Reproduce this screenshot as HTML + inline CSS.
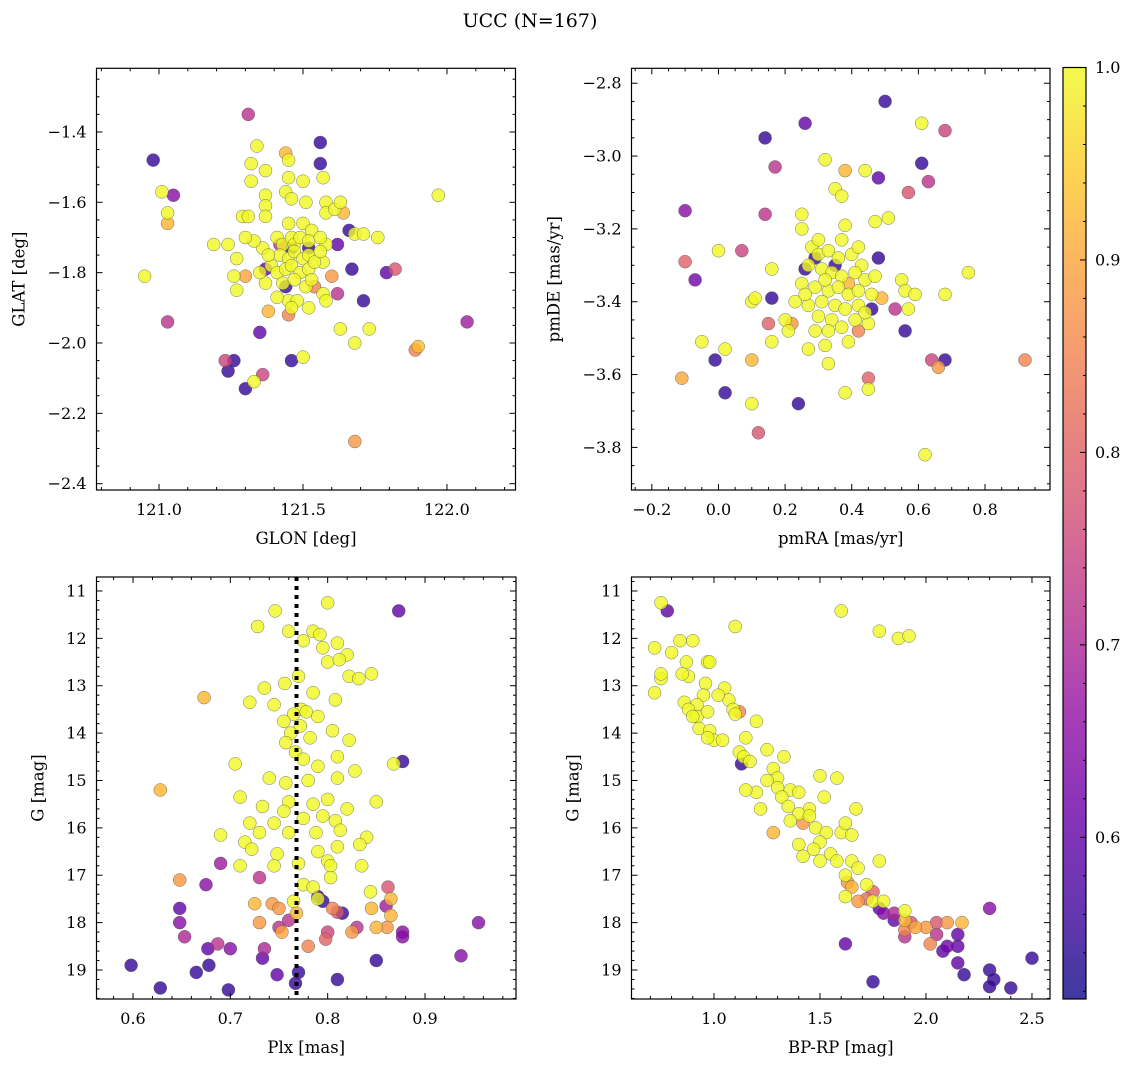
<!DOCTYPE html>
<html><head><meta charset="utf-8">
<style>
html,body{margin:0;padding:0;background:#fff;}
svg{display:block;font-family:"DejaVu Serif","Liberation Serif",serif;}
</style></head>
<body>
<svg id="fig" width="1136" height="1067" viewBox="0 0 1136 1067" xmlns="http://www.w3.org/2000/svg">
<defs>
<linearGradient id="plasma" x1="0" y1="1" x2="0" y2="0">
<stop offset="0" stop-color="#0d0887"/><stop offset="0.1" stop-color="#41049d"/><stop offset="0.2" stop-color="#6a00a8"/><stop offset="0.3" stop-color="#8f0da4"/><stop offset="0.4" stop-color="#b12a90"/><stop offset="0.5" stop-color="#cc4778"/><stop offset="0.6" stop-color="#e16462"/><stop offset="0.7" stop-color="#f2844b"/><stop offset="0.8" stop-color="#fca636"/><stop offset="0.9" stop-color="#fcce25"/><stop offset="1" stop-color="#f0f921"/>
</linearGradient>
</defs>
<text x="530" y="27" font-size="19" text-anchor="middle">UCC (N=167)</text>
</svg>
<script>
// ---- data (x, y, membership probability) ----
const glonGlatProb = [[120.98,-1.48,.55],[121.05,-1.58,.65],[121.01,-1.57,1],[121.03,-1.63,1],[121.03,-1.66,.92],[120.95,-1.81,1],[121.03,-1.94,.72],[121.31,-1.35,.72],[121.34,-1.44,1],[121.56,-1.43,.55],[121.56,-1.49,.55],[121.23,-2.05,.75],[121.26,-2.05,.55],[121.24,-2.08,.55],[121.30,-2.13,.55],[121.33,-2.11,1],[121.36,-2.09,.75],[121.46,-2.05,.55],[121.50,-2.04,1],[121.35,-1.97,.6],[121.30,-1.81,.9],[121.37,-1.79,.6],[121.38,-1.91,.92],[121.45,-1.92,.85],[121.44,-1.84,.55],[121.45,-1.88,1],[121.62,-1.86,.72],[121.63,-1.96,1],[121.62,-1.72,.6],[121.67,-1.79,.55],[121.71,-1.88,.55],[121.73,-1.96,1],[121.68,-2.00,1],[121.79,-1.80,.6],[121.82,-1.79,.78],[121.68,-2.28,.88],[121.89,-2.02,.85],[121.90,-2.01,.93],[121.97,-1.58,1],[122.07,-1.94,.68],[121.66,-1.68,.55],[121.68,-1.69,1],[121.71,-1.69,1],[121.76,-1.70,1],[121.19,-1.72,1],[121.24,-1.72,1],[121.26,-1.81,1],[121.27,-1.85,1],[121.27,-1.76,1],[121.29,-1.64,1],[121.31,-1.64,1],[121.32,-1.49,1],[121.32,-1.54,1],[121.37,-1.51,1],[121.37,-1.58,1],[121.37,-1.61,1],[121.37,-1.64,1],[121.44,-1.46,.92],[121.45,-1.48,1],[121.45,-1.53,1],[121.44,-1.57,1],[121.46,-1.59,1],[121.45,-1.66,1],[121.50,-1.54,1],[121.51,-1.60,1],[121.57,-1.53,1],[121.58,-1.60,1],[121.58,-1.63,1],[121.61,-1.62,1],[121.63,-1.60,1],[121.64,-1.63,.92],[121.50,-1.66,1],[121.53,-1.68,1],[121.58,-1.72,1],[121.57,-1.77,1],[121.57,-1.86,1],[121.58,-1.88,1],[121.60,-1.81,.88],[121.41,-1.70,1],[121.43,-1.72,1],[121.46,-1.70,1],[121.47,-1.72,1],[121.49,-1.70,1],[121.52,-1.71,1],[121.42,-1.75,1],[121.45,-1.76,1],[121.47,-1.74,1],[121.50,-1.76,1],[121.52,-1.75,1],[121.39,-1.78,1],[121.41,-1.80,1],[121.44,-1.79,1],[121.46,-1.78,1],[121.49,-1.80,1],[121.52,-1.79,1],[121.54,-1.77,1],[121.43,-1.83,1],[121.47,-1.82,1],[121.51,-1.84,1],[121.53,-1.82,1],[121.36,-1.73,1],[121.38,-1.75,1],[121.56,-1.74,1],[121.48,-1.88,1],[121.46,-1.90,1],[121.52,-1.90,1],[121.41,-1.87,1],[121.37,-1.83,1],[121.56,-1.70,1],[121.33,-1.71,1],[121.46,-1.73,.55],[121.52,-1.73,.55],[121.42,-1.72,.72],[121.54,-1.84,.85],[121.35,-1.80,1],[121.30,-1.70,1]];
const pmraPmdeProb = [[0.50,-2.85,.55],[0.61,-2.91,1],[0.68,-2.93,.75],[0.14,-2.95,.55],[0.26,-2.91,.6],[0.32,-3.01,1],[0.17,-3.03,.72],[0.38,-3.04,.92],[0.44,-3.04,1],[0.48,-3.06,.6],[0.61,-3.02,.55],[0.63,-3.07,.72],[0.57,-3.10,.78],[0.35,-3.09,1],[0.37,-3.11,1],[-0.10,-3.29,.8],[-0.10,-3.15,.65],[-0.07,-3.34,.62],[0.0,-3.26,1],[0.07,-3.26,.75],[0.14,-3.16,.72],[0.25,-3.16,1],[0.25,-3.20,1],[0.38,-3.19,1],[0.47,-3.18,1],[0.51,-3.17,1],[0.16,-3.31,1],[0.16,-3.39,.55],[0.10,-3.40,1],[0.11,-3.39,1],[0.20,-3.45,1],[0.22,-3.46,.88],[0.15,-3.46,.8],[0.26,-3.31,.55],[0.29,-3.28,.55],[0.55,-3.34,1],[0.56,-3.37,1],[0.53,-3.42,.72],[0.57,-3.42,1],[0.56,-3.48,.55],[0.59,-3.38,1],[0.68,-3.38,1],[0.75,-3.32,1],[0.64,-3.56,.75],[0.68,-3.56,.55],[0.66,-3.58,.88],[0.92,-3.56,.85],[0.45,-3.61,.8],[0.45,-3.64,1],[0.49,-3.39,.92],[0.38,-3.65,1],[0.24,-3.68,.55],[0.10,-3.68,1],[0.12,-3.76,.78],[0.62,-3.82,1],[-0.01,-3.56,.55],[0.02,-3.65,.55],[0.02,-3.53,1],[-0.05,-3.51,1],[-0.11,-3.61,.9],[0.10,-3.56,.92],[0.16,-3.51,1],[0.21,-3.48,1],[0.27,-3.53,1],[0.32,-3.52,1],[0.33,-3.57,1],[0.39,-3.51,1],[0.42,-3.48,.85],[0.45,-3.46,1],[0.28,-3.25,1],[0.30,-3.27,1],[0.33,-3.26,1],[0.36,-3.28,1],[0.40,-3.27,1],[0.43,-3.30,1],[0.27,-3.30,1],[0.31,-3.31,1],[0.34,-3.32,1],[0.37,-3.33,1],[0.41,-3.32,1],[0.44,-3.34,1],[0.47,-3.33,1],[0.25,-3.35,1],[0.29,-3.36,1],[0.33,-3.37,1],[0.36,-3.36,1],[0.39,-3.38,1],[0.42,-3.37,1],[0.46,-3.38,1],[0.23,-3.40,1],[0.27,-3.41,1],[0.31,-3.40,1],[0.35,-3.41,1],[0.38,-3.42,1],[0.42,-3.41,1],[0.30,-3.44,1],[0.34,-3.45,1],[0.37,-3.47,1],[0.41,-3.45,1],[0.44,-3.43,1],[0.33,-3.48,1],[0.29,-3.48,1],[0.39,-3.35,.92],[0.32,-3.34,1],[0.26,-3.38,1],[0.35,-3.30,.55],[0.42,-3.25,1],[0.37,-3.23,1],[0.30,-3.23,1],[0.48,-3.28,.55],[0.46,-3.42,.55]];
const plxGProb = [[0.80,11.25,1],[0.746,11.42,1],[0.873,11.42,.6],[0.728,11.75,1],[0.76,11.85,1],[0.785,11.85,1],[0.792,11.92,1],[0.775,12.05,1],[0.795,12.2,1],[0.81,12.1,1],[0.82,12.35,1],[0.80,12.5,1],[0.812,12.45,1],[0.77,12.8,1],[0.756,12.95,1],[0.735,13.05,1],[0.785,13.15,1],[0.822,12.8,1],[0.832,12.85,1],[0.845,12.75,1],[0.808,13.3,1],[0.72,13.35,1],[0.673,13.25,.92],[0.745,13.4,1],[0.773,13.5,1],[0.778,13.55,1],[0.765,13.6,1],[0.755,13.75,1],[0.79,13.65,1],[0.772,13.85,1],[0.762,14.0,1],[0.782,14.1,1],[0.757,14.2,1],[0.805,13.95,1],[0.81,14.5,1],[0.822,14.15,1],[0.767,14.4,1],[0.775,14.55,1],[0.79,14.7,1],[0.705,14.65,1],[0.74,14.95,1],[0.71,15.35,1],[0.757,15.05,1],[0.78,15.0,1],[0.81,14.95,1],[0.828,14.8,1],[0.868,14.65,1],[0.877,14.6,.55],[0.628,15.2,.92],[0.733,15.55,1],[0.76,15.45,1],[0.785,15.5,1],[0.8,15.4,1],[0.82,15.6,1],[0.85,15.45,1],[0.755,15.65,1],[0.72,15.9,1],[0.745,15.9,1],[0.775,15.8,1],[0.795,15.75,1],[0.808,15.85,1],[0.73,16.1,1],[0.69,16.15,1],[0.76,16.1,1],[0.788,16.1,1],[0.813,16.05,1],[0.84,16.2,1],[0.715,16.3,1],[0.722,16.45,1],[0.748,16.55,1],[0.79,16.5,1],[0.81,16.4,1],[0.833,16.35,1],[0.77,16.75,1],[0.745,16.8,1],[0.71,16.8,1],[0.69,16.75,.68],[0.8,16.7,1],[0.803,16.8,1],[0.835,16.8,1],[0.844,17.35,1],[0.775,17.2,1],[0.785,17.25,1],[0.803,17.05,1],[0.73,17.05,.72],[0.675,17.2,.65],[0.648,17.1,.88],[0.725,17.6,.92],[0.743,17.6,.88],[0.75,17.7,.88],[0.765,17.55,1],[0.768,17.8,.92],[0.79,17.5,1],[0.79,17.45,.55],[0.795,17.55,.55],[0.805,17.7,.85],[0.81,17.78,.78],[0.815,17.8,.55],[0.845,17.7,.92],[0.865,17.5,.92],[0.86,17.65,.68],[0.865,17.85,.92],[0.861,18.1,.88],[0.85,18.1,.92],[0.862,17.25,.78],[0.648,17.7,.6],[0.648,18.0,.65],[0.653,18.3,.7],[0.677,18.55,.6],[0.687,18.45,.72],[0.7,18.55,.65],[0.735,18.55,.7],[0.733,18.75,.6],[0.75,18.1,.72],[0.76,17.95,.72],[0.753,18.2,.9],[0.73,18.0,.88],[0.78,18.5,.85],[0.798,18.35,.8],[0.8,18.2,.75],[0.825,18.2,.88],[0.83,18.1,.72],[0.877,18.2,.65],[0.877,18.3,.65],[0.955,18.0,.65],[0.937,18.7,.65],[0.85,18.8,.55],[0.81,19.2,.55],[0.77,19.05,.55],[0.767,19.28,.55],[0.748,19.1,.6],[0.678,18.9,.55],[0.665,19.05,.55],[0.598,18.9,.55],[0.628,19.38,.55],[0.698,19.42,.55]];
const bprpGProb = [[0.75,11.25,1],[0.78,11.42,.6],[0.72,12.2,1],[0.75,12.85,1],[0.75,12.75,1],[0.72,13.15,1],[0.80,12.3,1],[0.84,12.05,1],[0.87,12.5,1],[0.90,12.05,1],[0.88,12.8,1],[0.85,12.75,1],[0.97,12.5,1],[0.98,12.5,1],[0.96,12.95,1],[0.95,13.2,1],[1.1,11.75,1],[0.92,13.4,1],[0.86,13.35,1],[0.88,13.5,1],[0.92,13.65,1],[0.97,13.55,1],[1.05,13.05,1],[1.07,13.3,1],[1.02,13.2,1],[1.09,13.5,1],[1.12,13.55,.85],[1.1,13.6,1],[0.9,13.65,1],[0.93,13.9,1],[0.98,13.95,1],[1.0,14.15,1],[1.04,14.15,1],[0.97,14.1,1],[1.15,14.1,1],[1.2,13.75,1],[1.12,14.4,1],[1.14,14.5,1],[1.17,14.6,1],[1.13,14.65,.55],[1.25,14.35,1],[1.28,14.75,1],[1.33,14.5,1],[1.3,14.95,1],[1.25,15.0,1],[1.3,15.15,1],[1.2,15.25,1],[1.15,15.2,1],[1.22,15.6,1],[1.36,15.2,1],[1.32,15.35,1],[1.35,15.55,1],[1.4,15.25,1],[1.45,15.6,1],[1.5,14.9,1],[1.58,14.95,1],[1.52,15.35,1],[1.42,15.9,.88],[1.4,15.7,1],[1.45,15.75,1],[1.28,16.1,.92],[1.36,15.85,1],[1.48,16.0,1],[1.53,16.1,1],[1.6,16.1,1],[1.62,15.9,1],[1.67,15.6,1],[1.65,16.15,1],[1.5,16.3,1],[1.47,16.45,1],[1.4,16.35,1],[1.42,16.6,1],[1.55,16.55,1],[1.5,16.7,1],[1.58,16.7,1],[1.65,16.7,1],[1.78,16.7,1],[1.68,16.85,1],[1.62,17.0,1],[1.63,17.15,.88],[1.65,17.25,.92],[1.72,17.2,1],[1.62,17.45,1],[1.68,17.55,.88],[1.72,17.5,.82],[1.75,17.35,.8],[1.75,17.55,1],[1.8,17.55,1],[1.78,17.7,.6],[1.8,17.8,.65],[1.85,17.8,.7],[1.9,17.75,1],[1.9,17.95,.92],[1.9,18.15,.85],[1.93,18.0,.78],[1.9,18.3,.72],[1.95,18.1,.9],[2.0,18.1,.88],[2.05,18.0,.78],[2.05,18.25,.72],[2.02,18.45,.85],[2.1,18.0,.88],[2.17,18.0,.92],[2.08,18.6,.6],[2.1,18.5,.62],[2.15,18.25,.6],[2.15,18.5,.6],[2.15,18.85,.6],[2.18,19.1,.55],[2.3,17.7,.65],[2.3,19.0,.55],[2.32,19.2,.55],[2.3,19.35,.55],[2.4,19.38,.55],[2.5,18.75,.55],[1.62,18.45,.6],[1.75,19.25,.55],[1.85,17.95,.6],[1.6,11.42,1],[1.78,11.85,1],[1.87,12.0,1],[1.92,11.95,1]];
const plxMedian = 0.768;
// ---- tick arrays ----
const glonTicks = [121.0, 121.5, 122.0];
const glatTicks = [-1.4, -1.6, -1.8, -2.0, -2.2, -2.4];
const pmraTicks = [-0.2, 0.0, 0.2, 0.4, 0.6, 0.8];
const pmdeTicks = [-2.8, -3.0, -3.2, -3.4, -3.6, -3.8];
const plxTicks = [0.6, 0.7, 0.8, 0.9];
const gTicks = [11, 12, 13, 14, 15, 16, 17, 18, 19];
const bprpTicks = [1.0, 1.5, 2.0, 2.5];
const cbarTicks = [0.6, 0.7, 0.8, 0.9, 1.0];
const probRange = [0.516, 1.0];

const NS = "http://www.w3.org/2000/svg";
const svg = document.getElementById('fig');
const plasma = ["#0d0887","#41049d","#6a00a8","#8f0da4","#b12a90","#cc4778","#e16462","#f2844b","#fca636","#fcce25","#f0f921"];
function hex(h){return [parseInt(h.slice(1,3),16),parseInt(h.slice(3,5),16),parseInt(h.slice(5,7),16)];}
function cmap(p){
  let t=(p-probRange[0])/(probRange[1]-probRange[0]); t=Math.max(0,Math.min(1,t));
  const f=t*10, i=Math.min(9,Math.floor(f)), u=f-i;
  const a=hex(plasma[i]), b=hex(plasma[i+1]);
  return "rgb("+a.map((v,k)=>Math.round(v+(b[k]-v)*u)).join(",")+")";
}
function mk(tag, attrs, parent){
  const e=document.createElementNS(NS,tag);
  for(const k in attrs) e.setAttribute(k, attrs[k]);
  (parent||svg).appendChild(e); return e;
}
function fmt(v,d){const s=Math.abs(v).toFixed(d);return (v<-1e-9?"\u2212":"")+s;}

const panels = [
 {id:"glon-glat", box:[96.5,68.3,515.5,490], xd:[120.783,122.238], yd:[-1.219,-2.418], data:glonGlatProb, xt:glonTicks, yt:glatTicks, xmin:0.1, ymin:0.05, xdec:1, ydec:1, xl:"GLON [deg]", yl:"GLAT [deg]", ylx:20},
 {id:"pmra-pmde", box:[631.5,68.3,1050,490], xd:[-0.261,0.995], yd:[-2.759,-3.917], data:pmraPmdeProb, xt:pmraTicks, yt:pmdeTicks, xmin:0.05, ymin:0.05, xdec:1, ydec:1, xl:"pmRA [mas/yr]", yl:"pmDE [mas/yr]", ylx:555},
 {id:"plx-g", box:[96.5,577,516,999], xd:[0.5625,0.9935], yd:[10.705,19.612], data:plxGProb, xt:plxTicks, yt:gTicks, xmin:0.02, ymin:0.2, xdec:1, ydec:0, xl:"Plx [mas]", yl:"G [mag]", ylx:39},
 {id:"bprp-g", box:[631.5,577,1050,999], xd:[0.611,2.585], yd:[10.705,19.612], data:bprpGProb, xt:bprpTicks, yt:gTicks, xmin:0.1, ymin:0.2, xdec:1, ydec:0, xl:"BP-RP [mag]", yl:"G [mag]", ylx:574}
];

panels.forEach((P,pi)=>{
  const [x0,y0,x1,y1]=P.box;
  const sx=v=>x0+(v-P.xd[0])/(P.xd[1]-P.xd[0])*(x1-x0);
  const sy=v=>y0+(v-P.yd[0])/(P.yd[1]-P.yd[0])*(y1-y0);
  const g=mk('g',{});
  
  
  const cp=mk('clipPath',{id:'clip'+pi},g);
  mk('rect',{x:x0,y:y0,width:x1-x0,height:y1-y0},cp);
  const pts=mk('g',{'clip-path':'url(#clip'+pi+')'},g);
  
  
  const sorted=P.data.slice().sort((a,b)=>a[2]-b[2]);
  sorted.forEach(d=>{
    const c=mk('circle',{cx:sx(d[0]).toFixed(1),cy:sy(d[1]).toFixed(1),r:6.5,fill:cmap(d[2]),'fill-opacity':0.8,stroke:'#555','stroke-width':0.5,'stroke-opacity':0.8},pts);
    
    
  });
  if(P.id==="plx-g"){
    const ln=mk('line',{x1:sx(plxMedian),x2:sx(plxMedian),y1:y0,y2:y1,stroke:'#000','stroke-width':4,'stroke-dasharray':'4 5'},g);
    
    
  }
  // ticks
  const tk=mk('g',{stroke:'#000','stroke-width':1},g);
  const xmaj=new Set(P.xt.map(v=>Math.round(v*1000)));
  const xs=Math.ceil(Math.min(P.xd[0],P.xd[1])/P.xmin-1e-6), xe=Math.floor(Math.max(P.xd[0],P.xd[1])/P.xmin+1e-6);
  for(let i=xs;i<=xe;i++){const v=i*P.xmin;const X=sx(v);if(X<x0+0.5||X>x1-0.5)continue;
    const L=xmaj.has(Math.round(v*1000))?6:3;
    mk('line',{x1:X,x2:X,y1:y1,y2:y1-L},tk);mk('line',{x1:X,x2:X,y1:y0,y2:y0+L},tk);}
  const ymaj=new Set(P.yt.map(v=>Math.round(v*1000)));
  const ys=Math.ceil(Math.min(P.yd[0],P.yd[1])/P.ymin-1e-6), ye=Math.floor(Math.max(P.yd[0],P.yd[1])/P.ymin+1e-6);
  for(let i=ys;i<=ye;i++){const v=i*P.ymin;const Y=sy(v);if(Y<y0+0.5||Y>y1-0.5)continue;
    const L=ymaj.has(Math.round(v*1000))?6:3;
    mk('line',{x1:x0,x2:x0+L,y1:Y,y2:Y},tk);mk('line',{x1:x1,x2:x1-L,y1:Y,y2:Y},tk);}
  const fr=mk('rect',{x:x0,y:y0,width:x1-x0,height:y1-y0,fill:'none',stroke:'#000','stroke-width':1.2},g);
  
  
  P.xt.forEach(v=>{const t=mk('text',{x:sx(v),y:y1+25,'font-size':16,'text-anchor':'middle'},g);t.textContent=fmt(v,P.xdec);
    
    });
  P.yt.forEach(v=>{const t=mk('text',{x:x0-10,y:sy(v)+5.5,'font-size':16,'text-anchor':'end'},g);t.textContent=fmt(v,P.ydec);
    
    });
  const xl=mk('text',{x:(x0+x1)/2,y:y1+54,'font-size':16.5,'text-anchor':'middle'},g);xl.textContent=P.xl;
  
  
  const cy=(y0+y1)/2;
  const yl=mk('text',{x:P.ylx,y:cy,'font-size':16.5,'text-anchor':'middle',transform:'rotate(-90 '+P.ylx+' '+cy+')','dominant-baseline':'middle'},g);yl.textContent=P.yl;
  
  
});

// colorbar
(function(){
  const cx0=1063, cx1=1086, cy0=67.5, cy1=999;
  const g=mk('g',{});
  
  
  mk('rect',{x:cx0,y:cy0,width:cx1-cx0,height:cy1-cy0,fill:'url(#plasma)','fill-opacity':0.8},g);
  const sy=v=>cy1-(v-probRange[0])/(probRange[1]-probRange[0])*(cy1-cy0);
  const maj=new Set(cbarTicks.map(v=>Math.round(v*100)));
  for(let i=26;i<=50;i++){const v=i*0.02;const Y=sy(v);if(Y<cy0-0.5||Y>cy1)continue;
    const L=maj.has(Math.round(v*100))?6:3;
    mk('line',{x1:cx1,x2:cx1-L,y1:Y,y2:Y,stroke:'#000','stroke-width':1},g);}
  mk('rect',{x:cx0,y:cy0,width:cx1-cx0,height:cy1-cy0,fill:'none',stroke:'#000','stroke-width':1.2},g);
  cbarTicks.forEach(v=>{const t=mk('text',{x:cx1+9,y:sy(v)+5.5,'font-size':16},g);t.textContent=v.toFixed(1);
    
    });
})();
</script>
</body></html>
